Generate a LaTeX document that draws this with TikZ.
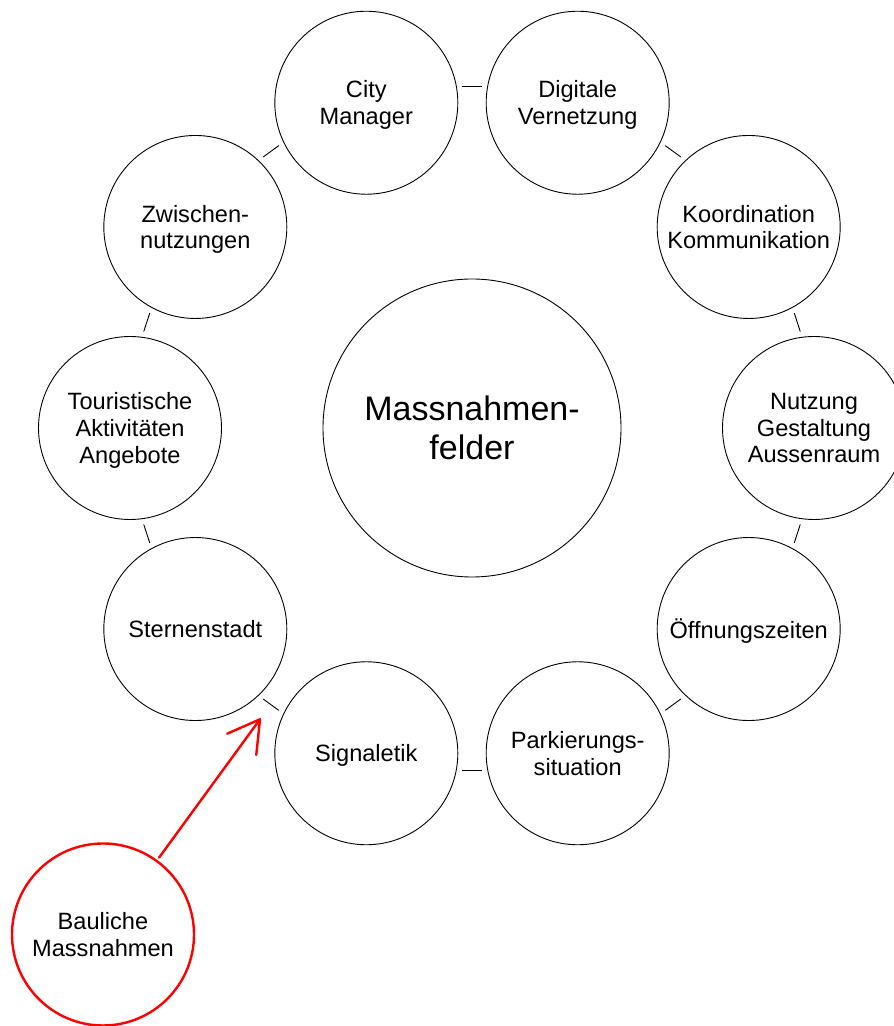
\documentclass[tikz,border=0pt]{standalone}
\usepackage{fontspec}
\setmainfont{Liberation Sans}
\usetikzlibrary{calc,arrows.meta}
\begin{document}
\begin{tikzpicture}[x=1pt,y=1pt,
  field/.style={circle,draw=black,line width=0.9pt,minimum size=183pt,inner sep=0pt,
    align=center,font=\fontsize{23.6}{26.8}\selectfont,text depth=0pt},
  hub/.style={field,minimum size=298pt,font=\fontsize{34}{39}\selectfont},
  focus/.style={field,draw=red,line width=2.4pt,minimum size=182pt},
  link/.style={draw=black,line width=0.9pt},
  pointer/.style={draw=red,line width=2.4pt,line cap=round,
    -{Straight Barb[length=31pt,width=36pt,line cap=round,line join=round]}}]
\useasboundingbox (0,0) rectangle (894,1026);

% ring of fields around the central hub
\coordinate (C) at (472,598);
\node[hub] (hub) at (C) {Massnahmen-\\felder};
\node[field] (city)  at ($(C)+(108:342)$) {City\\Manager};
\node[field] (digi)  at ($(C)+(72:342)$)  {Digitale\\Vernetzung};
\node[field] (koord) at ($(C)+(36:342)$)  {Koordination\\Kommunikation};
\node[field] (nutz)  at ($(C)+(0:342)$)   {Nutzung\\Gestaltung\\Aussenraum};
\node[field] (oeff)  at ($(C)+(-36:342)$) {Öffnungszeiten};
\node[field] (park)  at ($(C)+(-72:342)$) {Parkierungs-\\situation};
\node[field] (sign)  at ($(C)+(-108:342)$) {Signaletik};
\node[field] (stern) at ($(C)+(-144:342)$) {Sternenstadt};
\node[field] (tour)  at ($(C)+(180:342)$) {Touristische\\Aktivitäten\\Angebote};
\node[field] (zwi)   at ($(C)+(144:342)$) {Zwischen-\\nutzungen};

% short ring segments in the gaps between neighbouring fields
\foreach \a [count=\i] in {90,54,18,-18,-54,-90,-126,-162,162,126} {
  \coordinate (gap\i) at ($(C)+(\a:342)$);
  \draw[link] ($(gap\i)+(\a+90:9.7)$) -- ($(gap\i)+(\a-90:9.7)$);
}

% highlighted field and its pointer
\node[focus] (bau) at (103,91.5) {Bauliche\\Massnahmen};
\coordinate (aim) at (260.7,307.7);
\draw[pointer,shorten <=3pt] (bau) -- (aim);
\end{tikzpicture}
\end{document}
